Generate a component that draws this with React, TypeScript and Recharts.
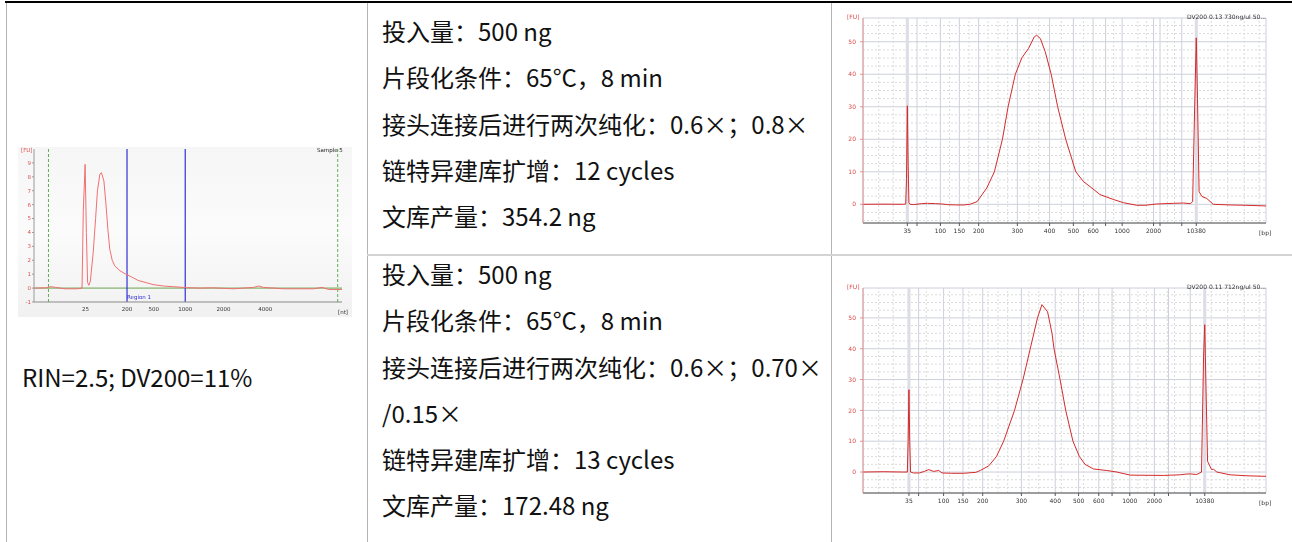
import React from 'react';
import { LineChart, Line, XAxis, YAxis, CartesianGrid, ReferenceLine } from 'recharts';

// Sample 5, total RNA on the RNA chip. x = migration position across the plot window (0-100)
const rnaPos = [0, 4, 5.5, 7, 10, 14, 15.6, 16.0, 16.6, 17.0, 17.4, 17.8, 18.3, 19.2, 20.0, 20.6, 21.4, 21.9, 22.7, 23.3, 24.0, 24.6, 25.4, 26.2, 27.9, 29.8, 31.7, 33.8, 36.6, 38.7, 42.0, 45.2, 49.6, 53.9, 58, 64.8, 71.3, 72.9, 74.5, 81.0, 90.8, 93.5, 95.7, 100];
const rnaFu = [0, 0.02, 0.1, 0.05, -0.05, -0.05, 0, 5.5, 8.9, 4, 0.4, 0.2, 0.5, 2.5, 5.0, 7.0, 8.2, 8.3, 7.7, 6.2, 4.2, 2.8, 2.0, 1.6, 1.25, 1.0, 0.8, 0.55, 0.38, 0.25, 0.15, 0.1, 0.03, 0, 0.02, -0.05, 0.05, 0.15, 0.05, -0.05, -0.05, 0.05, -0.1, -0.1];
const rnaTickPos = [16.7, 30.2, 38.9, 49.1, 61.5, 75.1];
const rnaTickNt = ['25', '200', '500', '1000', '2000', '4000'];
const rnaRegion = [30.2, 49.1]; // 200 - 1000 nt
const rnaGates = [4.7, 98.6];
const rnaFuTicks = [-1, 0, 1, 2, 3, 4, 5, 6, 7, 8, 9];

// library 1, HS DNA chip
const lib1Pos = [0, 5, 10, 10.6, 10.8, 11.0, 11.2, 11.4, 11.7, 12.5, 14.5, 16, 18, 19.5, 21, 23, 25, 26.5, 28.3, 30.7, 32.6, 34.6, 36.0, 37.8, 39.4, 41.1, 42.5, 43.1, 44.0, 45.2, 46.7, 48.3, 50.3, 52.8, 54.7, 56.8, 58.8, 62.1, 64.6, 67.9, 70, 72.9, 77, 79.5, 81.2, 81.8, 82.3, 82.7, 83.0, 83.4, 84.1, 85.3, 86.9, 91.1, 95, 100];
const lib1Fu = [0, 0.05, 0, 0.1, 8, 30.3, 12, 0.5, 0, -0.1, 0.2, 0.3, 0.2, 0.1, -0.1, -0.2, -0.2, 0, 0.8, 5, 10, 20, 30, 40, 45, 48, 51.5, 52, 51, 47, 40, 30, 20, 10, 7, 5, 3, 1.5, 0.5, -0.3, -0.3, 0.1, 0.3, 0.4, 0.2, 0.8, 30, 51.2, 32.6, 3.9, 2.4, 1.8, 0, -0.2, -0.3, -0.5];
const lib1Ladder = [11.0, 13.4, 19.2, 23.9, 28.7, 38.3, 46.3, 52.2, 57.1, 60.2, 64.3, 72.1, 73.7, 79.1, 82.7];

// library 2, HS DNA chip
const lib2Pos = [0, 5, 10, 11.0, 11.2, 11.4, 11.6, 11.8, 12.5, 14, 15.2, 16.3, 17.5, 18.8, 19.6, 22, 25, 28, 29.1, 31.2, 33.1, 34.9, 37.6, 39.7, 41.5, 43.3, 44.4, 45.8, 46.9, 47.4, 48.9, 50.3, 52.1, 53.7, 55.1, 57.2, 60.5, 63.0, 66.3, 74.5, 78.7, 79.9, 81.2, 82.8, 84.0, 84.5, 84.8, 85.1, 85.5, 86.5, 87.0, 87.8, 91.1, 95, 100];
const lib2Fu = [0, 0.1, 0, 0, 10, 26.7, 10, 0, -0.3, -0.3, 0.2, 0.8, 0.2, 0.5, -0.3, -0.4, -0.4, -0.1, 0.5, 2, 5, 10, 20, 30, 40, 50, 54.3, 52, 45, 40, 30, 20, 10, 5, 2.5, 1, 0.5, 0, -1, -1.1, -0.9, -0.7, -0.6, -0.8, 0, 37, 47.8, 28, 3.5, 0.8, 0.9, 0, -0.9, -1.2, -1.4];
const lib2Ladder = [11.4, 13.8, 20.0, 24.8, 29.7, 39.3, 47.7, 53.5, 58.5, 61.8, 66.2, 72.3, 75.8, 81.2, 84.8];

const ladderBp = ['35', '', '100', '150', '200', '300', '400', '500', '600', '', '1000', '2000', '', '', '10380'];
const fuTicks = [0, 10, 20, 30, 40, 50];
const fuMinor = [-5, -2.5, 2.5, 5, 7.5, 12.5, 15, 17.5, 22.5, 25, 27.5, 32.5, 35, 37.5, 42.5, 45, 47.5, 52.5, 55, 57.5];
const posMinor = [3.9, 7.5, 15.7, 21.5, 26.3, 31.0, 33.5, 35.9, 41.2, 43.6, 49.2, 54.7, 62.2, 68.2, 70.3, 75.5, 77.3, 86.4, 90.5, 94.6, 98.3];

const lib1Title = 'DV200 0.13 730ng/ul 50...';
const lib2Title = 'DV200 0.11 712ng/ul 50...';
const rinLabel = 'RIN=2.5; DV200=11%';

const lib1Notes = ['投入量：500 ng', '片段化条件：65°C，8 min', '接头连接后进行两次纯化：0.6×；0.8×', '链特异建库扩增：12 cycles', '文库产量：354.2 ng'];
const lib2Notes = ['投入量：500 ng', '片段化条件：65°C，8 min', '接头连接后进行两次纯化：0.6×；0.70×', '/0.15×', '链特异建库扩增：13 cycles', '文库产量：172.48 ng'];

const smallFont = '"DejaVu Sans", sans-serif';
const traceRed = '#d42a2a';

const abs = (left: number, top: number, extra: React.CSSProperties = {}): React.CSSProperties => ({
  position: 'absolute',
  left,
  top,
  ...extra,
});

function RnaTrace() {
  const data = rnaPos.map((x, i) => ({ x, fu: rnaFu[i] }));
  const W = 334;
  const H = 170;
  return (
    <div
      style={abs(18, 147, {
        width: W,
        height: H,
        background: 'linear-gradient(180deg, #f6f6f6 0%, #fbfbfb 50%, #f1f1f1 100%)',
        filter: 'blur(0.35px)',
      })}
    >
      <LineChart width={W} height={H} data={data} margin={{ top: 2, right: 10, bottom: 0, left: 0 }}>
        <ReferenceLine y={0} stroke="#6aa24e" strokeWidth={1} />
        {rnaGates.map((g) => (
          <ReferenceLine key={g} x={g} stroke="#5fae55" strokeDasharray="3 2" />
        ))}
        {rnaRegion.map((r) => (
          <ReferenceLine key={r} x={r} stroke="#3030d8" strokeWidth={1.2} />
        ))}
        <XAxis
          type="number"
          dataKey="x"
          domain={[0, 100]}
          ticks={rnaTickPos}
          interval={0}
          tickFormatter={(v) => rnaTickNt[rnaTickPos.indexOf(v)] ?? ''}
          height={15}
          axisLine={{ stroke: '#8a8a8a' }}
          tickLine={false}
          tickSize={3}
          tick={{ fontSize: 5.5, fill: '#333', fontFamily: smallFont }}
        />
        <YAxis
          type="number"
          domain={[-1, 10]}
          allowDataOverflow
          ticks={rnaFuTicks}
          interval={0}
          width={16}
          axisLine={{ stroke: '#9a9a9a' }}
          tickLine={{ stroke: '#9a9a9a' }}
          tickSize={2}
          tickMargin={1}
          tick={{ fontSize: 5.5, fill: '#e05050', fontFamily: smallFont }}
        />
        <Line type="linear" dataKey="fu" stroke="#f07070" strokeWidth={1} dot={false} isAnimationActive={false} />
      </LineChart>
      <span style={abs(3, 0, { fontSize: 5.5, color: '#e05050', fontFamily: smallFont })}>[FU]</span>
      <span style={abs(299, 0, { fontSize: 5.5, color: '#222', fontFamily: smallFont })}>Sample 5</span>
      <span style={abs(320, 162, { fontSize: 5.5, color: '#333', fontFamily: smallFont })}>[nt]</span>
      <span style={abs(109, 147, { fontSize: 5.5, color: '#3030d8', fontFamily: smallFont })}>Region 1</span>
    </div>
  );
}

interface LibraryTraceProps {
  left: number;
  top: number;
  height: number;
  marginTop: number;
  xHeight: number;
  pos: number[];
  fu: number[];
  ladder: number[];
  yDomain: [number, number];
  title: string;
}

function LibraryTrace({ left, top, height, marginTop, xHeight, pos, fu, ladder, yDomain, title }: LibraryTraceProps) {
  const data = pos.map((x, i) => ({ x, fu: fu[i] }));
  const W = 459;
  const plotBottom = height - xHeight;
  return (
    // own compositing layer so the tiny labels get grayscale antialiasing
    <div style={abs(left, top, { width: W, height, willChange: 'transform' })}>
      <LineChart width={W} height={height} data={data} margin={{ top: marginTop, right: 26, bottom: 0, left: 0 }}>
        <CartesianGrid stroke="#cdd0da" strokeWidth={1} />
        {fuMinor.map((v) => (
          <ReferenceLine key={'h' + v} y={v} stroke="#dadada" strokeDasharray="2 2" />
        ))}
        {posMinor.map((v) => (
          <ReferenceLine key={'v' + v} x={v} stroke="#dadada" strokeDasharray="2 2" />
        ))}
        <ReferenceLine x={ladder[0]} stroke="#dcdde6" strokeWidth={3} />
        <ReferenceLine x={ladder[ladder.length - 1]} stroke="#dcdde6" strokeWidth={3} />
        <XAxis
          type="number"
          dataKey="x"
          domain={[0, 100]}
          ticks={ladder}
          interval={0}
          tickFormatter={(v) => ladderBp[ladder.indexOf(v)] ?? ''}
          height={xHeight}
          axisLine={{ stroke: '#555' }}
          tickLine={{ stroke: '#555' }}
          tickSize={3}
          tickMargin={3}
          tick={{ fontSize: 6, fill: '#333', fontFamily: smallFont }}
        />
        <YAxis
          type="number"
          domain={yDomain}
          allowDataOverflow
          ticks={fuTicks}
          interval={0}
          width={30}
          axisLine={{ stroke: '#e09090' }}
          tickLine={{ stroke: '#e09090' }}
          tickSize={3}
          tickMargin={4}
          tick={{ fontSize: 6, fill: '#d84a4a', fontFamily: smallFont }}
        />
        <Line type="linear" dataKey="fu" stroke={traceRed} strokeWidth={1} dot={false} isAnimationActive={false} />
      </LineChart>
      <span style={abs(14, marginTop - 5, { fontSize: 6, color: '#d84a4a', fontFamily: smallFont })}>[FU]</span>
      <span
        style={abs(0, marginTop - 5, {
          width: W - 26,
          textAlign: 'right',
          fontSize: 6,
          color: '#333',
          fontFamily: smallFont,
        })}
      >
        {title}
      </span>
      <span style={abs(W - 33, plotBottom + 6, { fontSize: 6, color: '#333', fontFamily: smallFont })}>[bp]</span>
    </div>
  );
}

function Notes({ lines, left, top }: { lines: string[]; left: number; top: number }) {
  return (
    <div style={abs(left, top, { fontSize: 24, lineHeight: '46.3px', color: '#111', whiteSpace: 'nowrap' })}>
      {lines.map((l, i) => (
        <div key={i}>{l}</div>
      ))}
    </div>
  );
}

export default function App() {
  return (
    <div
      style={{
        position: 'absolute',
        left: 0,
        top: 0,
        width: 1292,
        height: 542,
        overflow: 'hidden',
        background: '#fff',
        fontFamily: '"Noto Sans CJK SC", sans-serif',
      }}
    >
      {/* table rules */}
      <div style={abs(5, 1, { width: 1287, height: 2, background: '#000' })} />
      <div style={abs(6, 3, { width: 1, height: 539, background: '#b4b4b4' })} />
      <div style={abs(367, 3, { width: 1, height: 539, background: '#b4b4b4' })} />
      <div style={abs(831, 3, { width: 1, height: 539, background: '#b4b4b4' })} />
      <div style={abs(367, 254, { width: 925, height: 2, background: '#d4d4d4' })} />

      <RnaTrace />
      <div style={abs(22, 361, { fontSize: 24, lineHeight: '32px', color: '#111', whiteSpace: 'nowrap' })}>{rinLabel}</div>

      <Notes lines={lib1Notes} left={382} top={8} />
      <Notes lines={lib2Notes} left={382} top={251} />

      <LibraryTrace
        left={833}
        top={4}
        height={242}
        marginTop={14}
        xHeight={23}
        pos={lib1Pos}
        fu={lib1Fu}
        ladder={lib1Ladder}
        yDomain={[-5.75, 57.3]}
        title={lib1Title}
      />
      <LibraryTrace
        left={833}
        top={257}
        height={260}
        marginTop={31}
        xHeight={24}
        pos={lib2Pos}
        fu={lib2Fu}
        ladder={lib2Ladder}
        yDomain={[-6.8, 59.7]}
        title={lib2Title}
      />
    </div>
  );
}
